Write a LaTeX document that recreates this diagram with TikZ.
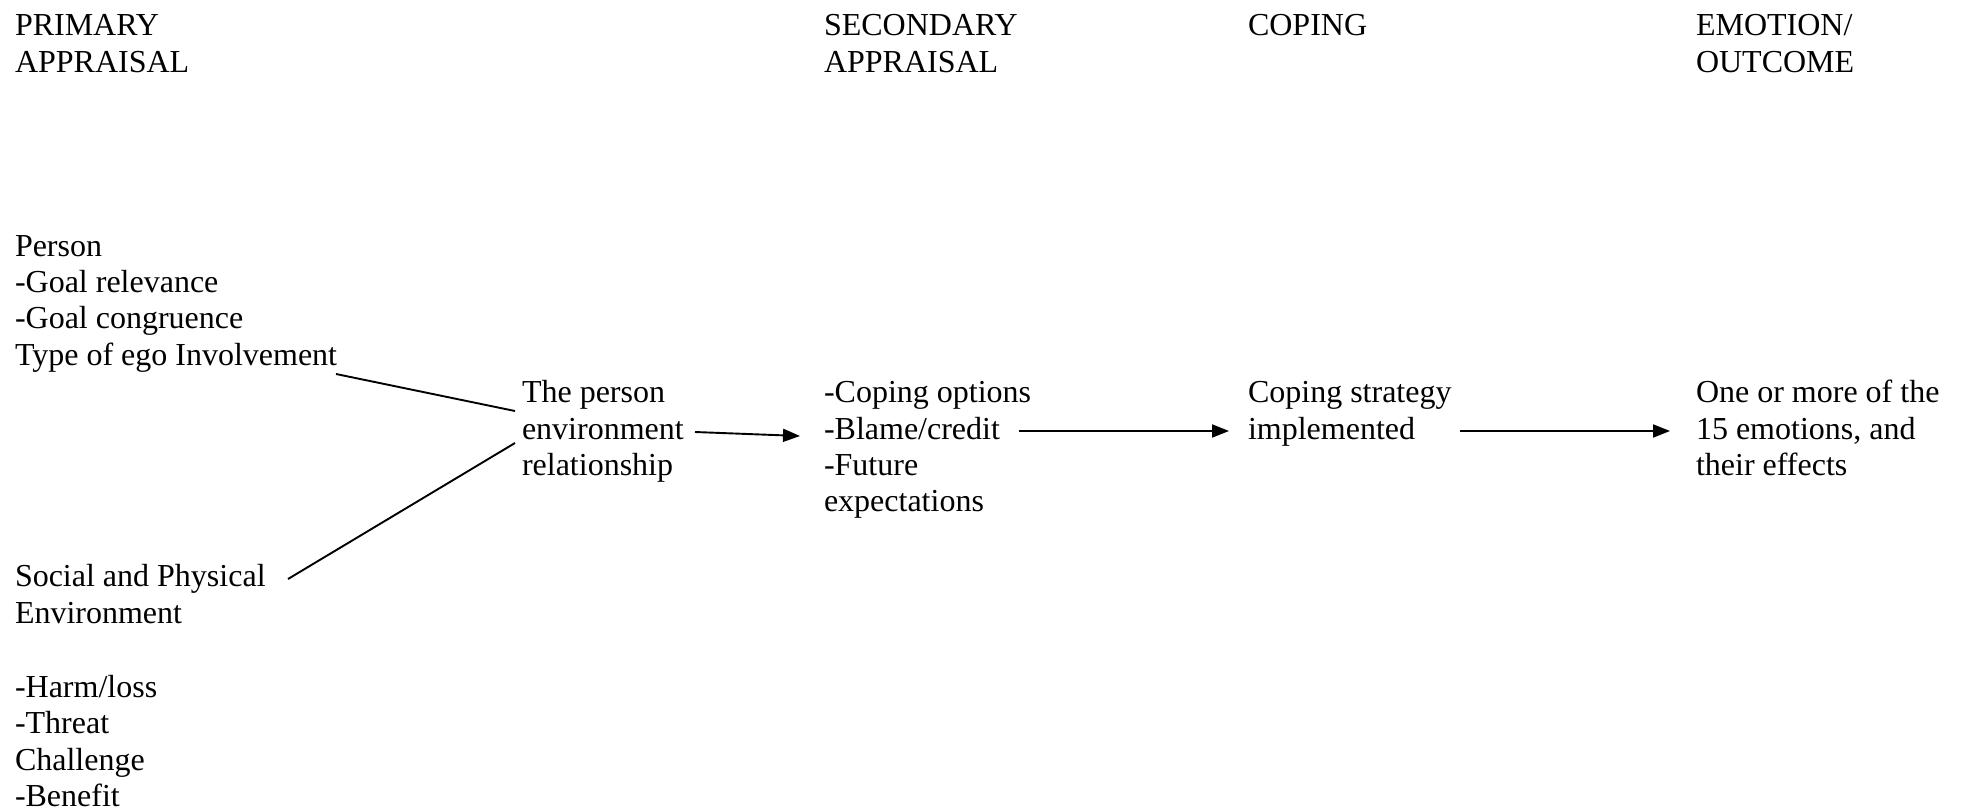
\documentclass[tikz,border=0pt]{standalone}
\usepackage{fontspec}
\setmainfont{Liberation Serif}
\usetikzlibrary{arrows.meta}
\newcommand\stk[1]{\vtop{\halign{##\hfil\cr#1\crcr}}}
\begin{document}
\begin{tikzpicture}[x=1pt,y=-1pt,
  txt/.style={anchor=base west, inner sep=0pt, outer sep=0pt, font=\fontsize{32}{36.35}\selectfont},
  conn/.style={line width=1.9pt},
  arr/.style={conn, -{Triangle[length=17pt,width=13pt]}}]
\useasboundingbox (0,0) rectangle (1982,811);
% headers
\node[txt] (h1) at (15,35.7) {\stk{PRIMARY\cr APPRAISAL}};
\node[txt] (h2) at (824,35.7) {\stk{SECONDARY\cr APPRAISAL}};
\node[txt] (h3) at (1248,35.7) {COPING};
\node[txt] (h4) at (1696,35.7) {\stk{EMOTION/\cr OUTCOME}};
% left column
\node[txt] (person) at (15,256) {\stk{Person\cr -Goal relevance\cr -Goal congruence\cr Type of ego Involvement}};
\node[txt] (social) at (15,586.7) {\stk{Social and Physical\cr Environment}};
\node[txt] (harm) at (15,697.3) {\stk{-Harm/loss\cr -Threat\cr Challenge\cr -Benefit}};
% middle row
\node[txt] (per) at (522,402.7) {\stk{The person\cr environment\cr relationship}};
\node[txt] (sec) at (824,402.7) {\stk{-Coping options\cr -Blame/credit\cr -Future\cr expectations}};
\node[txt] (cop) at (1248,402.7) {\stk{Coping strategy\cr implemented}};
\node[txt] (emo) at (1696,402.7) {\stk{One or more of the\cr 15 emotions, and\cr their effects}};
% connectors
\coordinate (a1) at (336,374);
\coordinate (a2) at (515,411);
\coordinate (b1) at (288,579);
\coordinate (b2) at (515,443);
\coordinate (c1) at (695,432);
\coordinate (c2) at (800,436);
\coordinate (d1) at (1019,431);
\coordinate (d2) at (1229,431);
\coordinate (e1) at (1460,431);
\coordinate (e2) at (1670,431);
\draw[conn] (a1) -- (a2);
\draw[conn] (b1) -- (b2);
\draw[arr] (c1) -- (c2);
\draw[arr] (d1) -- (d2);
\draw[arr] (e1) -- (e2);
\end{tikzpicture}
\end{document}
